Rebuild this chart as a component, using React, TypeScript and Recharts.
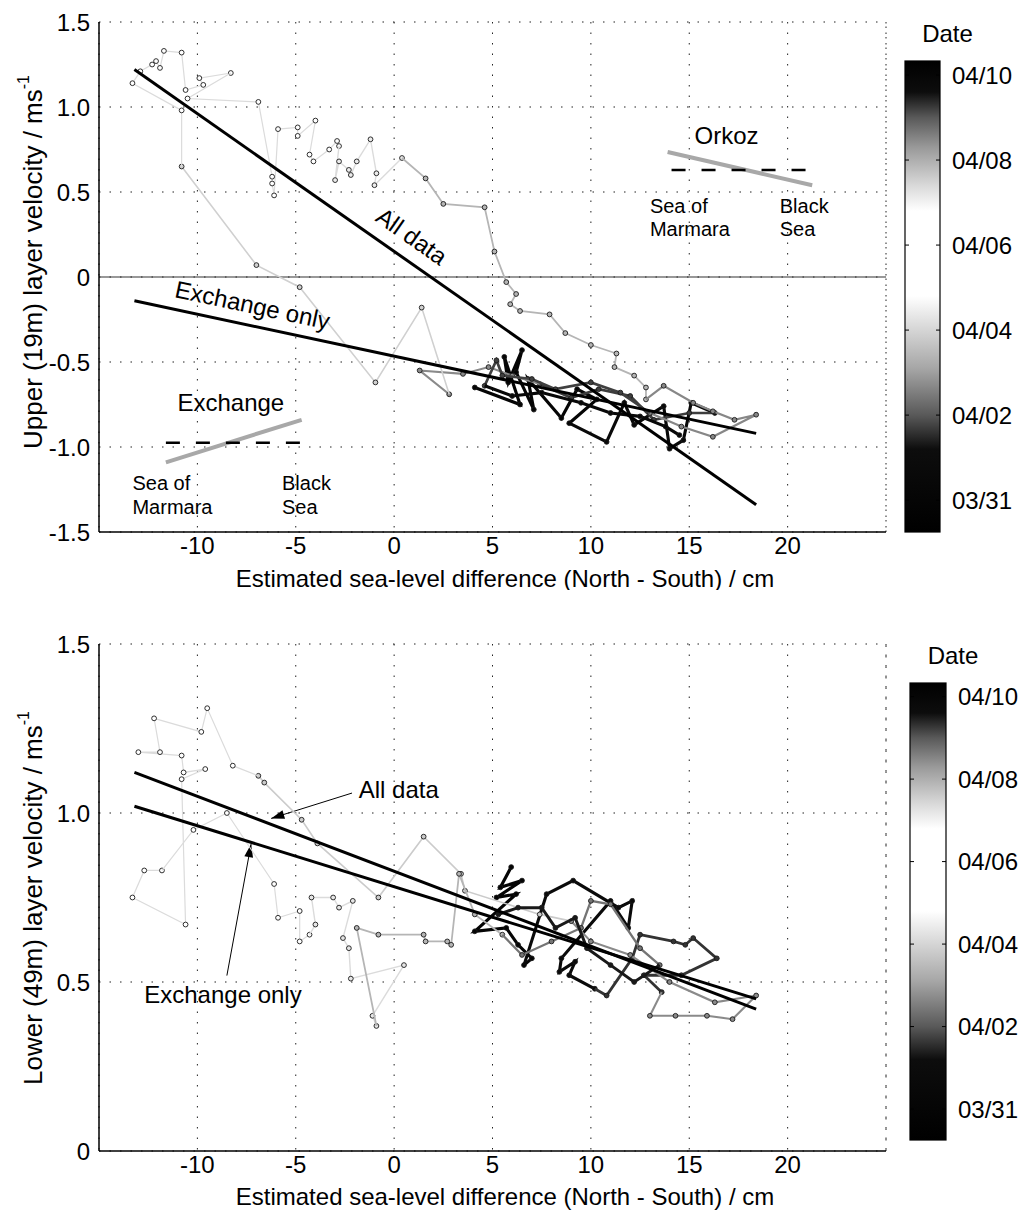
import React from "react";
import { ScatterChart, Scatter, XAxis, YAxis, CartesianGrid, ReferenceLine, ReferenceDot } from "recharts";

const FONT = '"Liberation Sans", Arial, Helvetica, sans-serif';

const xTicks = [-10, -5, 0, 5, 10, 15, 20];
const upperTicks = [-1.5, -1, -0.5, 0, 0.5, 1, 1.5];
const lowerTicks = [0, 0.5, 1, 1.5];
const dateLabels = ["03/31", "04/02", "04/04", "04/06", "04/08", "04/10"];
const dateDays = [0, 2, 4, 6, 8, 10]; // days after 03/31

// colour bar: black -> white -> black (0 = black, 1 = white)
const cmapDays = [-0.75, 1.2, 2.0, 3.1, 4.8, 6.8, 7.4, 8.3, 9.0, 9.6, 10.33];
const cmapGray = [0, 0.05, 0.35, 0.65, 1, 1, 0.85, 0.6, 0.35, 0.05, 0];

// upper (19m) layer trajectory, piece by piece
const upperP1 = [[4.1, -0.65], [6.4, -0.75], [5.6, -0.47], [5.8, -0.62], [6.5, -0.43], [6.2, -0.56], [7.1, -0.78], [6.8, -0.6], [8.5, -0.83], [9.3, -0.66], [10.3, -0.72], [8.9, -0.86]];
const upperP2 = [[10.8, -0.97], [11.7, -0.74], [12.2, -0.87], [13.7, -0.76], [14.0, -1.01], [14.7, -0.96], [15.1, -0.74], [16.3, -0.8]];
const upperP3 = [[15.0, -0.8], [13.2, -0.84], [12.0, -0.7], [10.4, -0.66], [9.0, -0.71], [7.4, -0.63]];
const upperP4 = [[6.0, -0.58], [4.8, -0.53], [3.5, -0.57], [1.3, -0.55], [2.8, -0.69]];
const upperP5 = [[1.4, -0.18], [-0.95, -0.62], [-4.8, -0.06], [-7.0, 0.07], [-10.8, 0.65]];
const upperP6 = [[-10.8, 0.98], [-13.3, 1.14], [-12.9, 1.21], [-12.3, 1.25], [-12.1, 1.27], [-11.9, 1.23], [-11.7, 1.33], [-10.8, 1.32], [-10.6, 1.1], [-9.7, 1.13], [-9.9, 1.17], [-8.3, 1.2]];
const upperP7 = [[-10.5, 1.05], [-6.9, 1.03], [-6.2, 0.59], [-6.2, 0.55], [-6.1, 0.48], [-5.9, 0.87], [-4.9, 0.88], [-4.9, 0.83], [-4.0, 0.92], [-4.3, 0.72], [-4.1, 0.68], [-3.3, 0.75], [-2.9, 0.8], [-2.8, 0.77]];
const upperP8 = [[-3.0, 0.57], [-2.8, 0.68], [-2.3, 0.63], [-2.2, 0.6], [-1.9, 0.68], [-1.2, 0.81], [-0.9, 0.61], [-1.0, 0.54], [0.4, 0.7]];
const upperP9 = [[1.6, 0.58], [2.5, 0.43], [4.6, 0.41], [5.1, 0.15], [5.7, -0.03], [6.2, -0.1], [5.9, -0.16], [6.4, -0.2], [7.9, -0.22], [8.7, -0.33], [10.0, -0.4], [11.3, -0.45], [11.2, -0.53], [12.2, -0.58], [12.8, -0.65], [12.8, -0.72]];
const upperP10 = [[13.7, -0.64], [15.2, -0.74], [16.2, -0.79], [17.3, -0.84], [18.4, -0.81], [16.2, -0.94], [14.6, -0.88], [13.0, -0.8]];
const upperP11 = [[11.5, -0.68], [10.0, -0.62], [8.2, -0.66], [7.0, -0.6], [5.5, -0.58], [5.2, -0.49], [4.6, -0.64]];
const upperP12 = [[6.0, -0.7], [7.5, -0.68], [9.5, -0.74], [11.0, -0.8], [12.5, -0.82], [13.8, -0.88], [14.5, -0.93]];
const upperDays = [0.0, 0.7, 1.7, 2.7, 3.9, 5.2, 6.2, 7.1, 7.9, 8.5, 9.2, 9.9];
const upperFitAll = [[-13.2, 1.22], [18.4, -1.34]];
const upperFitExchange = [[-13.2, -0.14], [18.4, -0.92]];

// lower (49m) layer trajectory, piece by piece
const lowerP1 = [[5.95, 0.84], [5.4, 0.78], [6.5, 0.8], [5.2, 0.75], [6.2, 0.76], [4.1, 0.65], [5.7, 0.66], [6.3, 0.61], [7.0, 0.57], [6.6, 0.55]];
const lowerP2 = [[7.75, 0.76], [9.1, 0.8], [11.4, 0.72], [12.1, 0.74], [11.9, 0.66], [11.0, 0.74], [8.5, 0.57], [8.4, 0.53], [9.2, 0.56], [8.9, 0.52], [10.2, 0.48]];
const lowerP3 = [[10.8, 0.46], [12.1, 0.57], [12.5, 0.64], [14.2, 0.62], [14.8, 0.61], [15.2, 0.63], [16.4, 0.57], [14.6, 0.52], [12.7, 0.52], [13.6, 0.47]];
const lowerP4 = [[13.0, 0.4], [14.3, 0.4], [15.9, 0.4], [17.2, 0.39], [18.4, 0.46], [16.3, 0.44], [14.0, 0.5], [12.0, 0.58], [10.0, 0.62], [9.0, 0.68]];
const lowerP5 = [[7.4, 0.7], [3.6, 0.77], [3.4, 0.82], [1.5, 0.93], [-0.8, 0.75], [-3.9, 0.91], [-4.7, 0.98], [-6.6, 1.09], [-6.9, 1.11]];
const lowerP6 = [[-8.2, 1.14], [-9.5, 1.31], [-9.8, 1.24], [-12.2, 1.28], [-11.9, 1.18], [-13.0, 1.18], [-10.8, 1.17], [-10.7, 1.12], [-9.6, 1.13], [-10.8, 1.1], [-10.6, 0.67], [-13.3, 0.75], [-12.7, 0.83], [-11.8, 0.83]];
const lowerP7 = [[-10.2, 0.95], [-8.5, 1.0], [-6.1, 0.79], [-5.9, 0.69], [-4.8, 0.71], [-4.8, 0.62], [-4.3, 0.64]];
const lowerP8 = [[-4.0, 0.67], [-4.2, 0.75], [-3.1, 0.75], [-2.8, 0.72], [-2.1, 0.74], [-2.6, 0.63], [-2.3, 0.6], [-2.2, 0.51], [0.5, 0.55], [-1.1, 0.4], [-0.9, 0.37]];
const lowerP9 = [[-1.9, 0.66], [-0.8, 0.64], [1.5, 0.64], [1.6, 0.62], [2.7, 0.62], [2.9, 0.61], [3.3, 0.82], [4.1, 0.7], [5.5, 0.64]];
const lowerP10 = [[6.5, 0.58], [8.0, 0.62], [9.5, 0.66], [10.0, 0.74], [11.0, 0.73], [12.5, 0.6], [13.5, 0.55]];
const lowerP11 = [[12.2, 0.5], [11.0, 0.55], [9.8, 0.6], [9.2, 0.69], [8.2, 0.66], [7.5, 0.72], [6.3, 0.72], [5.3, 0.7]];
const lowerDays = [0.0, 0.8, 1.6, 2.7, 3.8, 5.2, 6.3, 7.2, 7.9, 8.7, 9.5];
const lowerFitAll = [[-13.2, 1.12], [18.4, 0.42]];
const lowerFitExchange = [[-13.2, 1.02], [18.4, 0.45]];

function grayAt(day: number) {
  if (day <= cmapDays[0]) return cmapGray[0];
  for (let i = 1; i < cmapDays.length; i++) {
    if (day <= cmapDays[i]) {
      const t = (day - cmapDays[i - 1]) / (cmapDays[i] - cmapDays[i - 1]);
      return cmapGray[i - 1] + t * (cmapGray[i] - cmapGray[i - 1]);
    }
  }
  return cmapGray[cmapGray.length - 1];
}

function hexGray(g: number) {
  const v = Math.round(255 * g).toString(16).padStart(2, "0");
  return `#${v}${v}${v}`;
}

function buildRuns(pieces: number[][][], days: number[]) {
  return pieces.map((pts, i) => {
    const prev = i > 0 ? pieces[i - 1][pieces[i - 1].length - 1] : null;
    const data = pts.map(([x, y]) => ({ x, y, joint: false }));
    if (prev) data.unshift({ x: prev[0], y: prev[1], joint: true });
    const g = grayAt(days[i]);
    return {
      data,
      fill: hexGray(g),
      line: hexGray(Math.min(g, 0.86)),
      width: 1.2 + 2.0 * (1 - g),
    };
  });
}

const upperRuns = buildRuns([upperP1, upperP2, upperP3, upperP4, upperP5, upperP6, upperP7, upperP8, upperP9, upperP10, upperP11, upperP12], upperDays);
const lowerRuns = buildRuns([lowerP1, lowerP2, lowerP3, lowerP4, lowerP5, lowerP6, lowerP7, lowerP8, lowerP9, lowerP10, lowerP11], lowerDays);

const toXY = (pts: number[][]) => pts.map(([x, y]) => ({ x, y }));

const dotShape = (fill: string) => (p: any) => {
  if (p.payload && p.payload.joint) return <g />;
  return <circle cx={p.cx} cy={p.cy} r={2.4} fill={fill} stroke="#1a1a1a" strokeWidth={0.9} />;
};

const noShape = () => <g />;

const fmtY = (v: number) => (v === 0 ? "0" : v.toFixed(1));

function note(key: string, x: number, y: number, text: string, opts: { size?: number; angle?: number; anchor?: string } = {}) {
  const size = opts.size ?? 24;
  const angle = opts.angle ?? 0;
  const anchor = opts.anchor ?? "middle";
  return (
    <ReferenceDot
      key={key}
      x={x}
      y={y}
      r={1}
      ifOverflow="visible"
      shape={(p: any) => (
        <text
          x={p.cx}
          y={p.cy}
          textAnchor={anchor as any}
          dominantBaseline="central"
          fontSize={size}
          fontFamily={FONT}
          fill="#000"
          transform={angle ? `rotate(${angle}, ${p.cx}, ${p.cy})` : undefined}
        >
          {text}
        </text>
      )}
    />
  );
}

const yTitle = (main: string, cy: number) => () => (
  <text x={33} y={cy} transform={`rotate(-90, 33, ${cy})`} textAnchor="middle" dominantBaseline="central" fontSize={26} fontFamily={FONT} fill="#000">
    {main}
    <tspan dy={-10} fontSize={16}>-1</tspan>
  </text>
);

const xTitle = (cy: number) => () => (
  <text x={505} y={cy} textAnchor="middle" dominantBaseline="central" fontSize={24} fontFamily={FONT} fill="#000">
    Estimated sea-level difference (North - South) / cm
  </text>
);

const tickStyle = { fill: "#000", fontSize: 24, fontFamily: FONT };
const dotted = "1.5 9";

function Panel({ upper }: { upper: boolean }) {
  const runs = upper ? upperRuns : lowerRuns;
  return (
    <ScatterChart width={900} height={590} margin={{ top: upper ? 22 : 24, right: 14, bottom: upper ? 28 : 29, left: 39 }} style={{ background: "#fff" }}>
      <defs>
        <marker id="arrowHead" viewBox="0 0 12 10" refX="12" refY="5" markerWidth="14" markerHeight="11" orient="auto" markerUnits="userSpaceOnUse">
          <path d="M0,1 L12,5 L0,9 z" fill="#000" />
        </marker>
      </defs>
      <CartesianGrid stroke="#222" strokeDasharray={dotted} strokeWidth={1} />
      <XAxis
        type="number"
        dataKey="x"
        domain={[-15, 25]}
        ticks={xTicks}
        allowDataOverflow
        height={30}
        tick={tickStyle}
        tickSize={0}
        tickMargin={5}
        axisLine={{ stroke: "#000", strokeWidth: 1.5 }}
        tickLine={false}
        label={xTitle(upper ? 578 : 576)}
      />
      <YAxis
        type="number"
        dataKey="y"
        domain={upper ? [-1.5, 1.5] : [0, 1.5]}
        ticks={upper ? upperTicks : lowerTicks}
        allowDataOverflow
        width={60}
        tick={tickStyle}
        tickSize={0}
        tickMargin={9}
        tickFormatter={fmtY}
        axisLine={{ stroke: "#000", strokeWidth: 1.5 }}
        tickLine={false}
        label={upper ? yTitle("Upper (19m) layer velocity / ms", 262) : yTitle("Lower (49m) layer velocity / ms", 278)}
      />
      <ReferenceLine x={25} stroke="#222" strokeDasharray={dotted} />
      {upper && <ReferenceLine y={0} stroke="#333" strokeWidth={1.2} />}
      {runs.map((run, i) => (
        <Scatter
          key={`run${i}`}
          data={run.data}
          isAnimationActive={false}
          line={{ stroke: run.line, strokeWidth: run.width }}
          lineType="joint"
          shape={dotShape(run.fill)}
        />
      ))}
      <Scatter data={toXY(upper ? upperFitAll : lowerFitAll)} isAnimationActive={false} line={{ stroke: "#000", strokeWidth: 3 }} lineType="joint" shape={noShape} />
      <Scatter data={toXY(upper ? upperFitExchange : lowerFitExchange)} isAnimationActive={false} line={{ stroke: "#000", strokeWidth: 3 }} lineType="joint" shape={noShape} />
      {upper && [
        note("alld", 0.9, 0.24, "All data", { angle: 35 }),
        note("exo", -7.2, -0.165, "Exchange only", { angle: 12 }),
        note("exch", -8.3, -0.74, "Exchange"),
        note("som1", -13.3, -1.21, "Sea of", { size: 20, anchor: "start" }),
        note("mar1", -13.3, -1.35, "Marmara", { size: 20, anchor: "start" }),
        note("bl1", -5.7, -1.21, "Black", { size: 20, anchor: "start" }),
        note("sea1", -5.7, -1.35, "Sea", { size: 20, anchor: "start" }),
        note("ork", 16.9, 0.83, "Orkoz"),
        note("som2", 13.0, 0.42, "Sea of", { size: 20, anchor: "start" }),
        note("mar2", 13.0, 0.28, "Marmara", { size: 20, anchor: "start" }),
        note("bl2", 19.6, 0.42, "Black", { size: 20, anchor: "start" }),
        note("sea2", 19.6, 0.28, "Sea", { size: 20, anchor: "start" }),
        <ReferenceLine key="exg" segment={[{ x: -11.6, y: -1.09 }, { x: -4.7, y: -0.84 }]} stroke="#a8a8a8" strokeWidth={4} ifOverflow="visible" />,
        <ReferenceLine key="exd" segment={[{ x: -11.6, y: -0.975 }, { x: -4.7, y: -0.975 }]} stroke="#000" strokeWidth={2.5} strokeDasharray="14 16" ifOverflow="visible" />,
        <ReferenceLine key="okg" segment={[{ x: 13.9, y: 0.735 }, { x: 21.25, y: 0.54 }]} stroke="#a8a8a8" strokeWidth={4} ifOverflow="visible" />,
        <ReferenceLine key="okd" segment={[{ x: 14.1, y: 0.63 }, { x: 21.0, y: 0.63 }]} stroke="#000" strokeWidth={2.5} strokeDasharray="14 16" ifOverflow="visible" />,
      ]}
      {!upper && [
        note("alld2", -1.8, 1.07, "All data", { anchor: "start" }),
        note("exo2", -12.7, 0.463, "Exchange only", { anchor: "start" }),
        <ReferenceLine key="ar1" segment={[{ x: -2.14, y: 1.059 }, { x: -6.25, y: 0.984 }]} stroke="#000" strokeWidth={1} markerEnd="url(#arrowHead)" ifOverflow="visible" />,
        <ReferenceLine key="ar2" segment={[{ x: -8.5, y: 0.519 }, { x: -7.27, y: 0.908 }]} stroke="#000" strokeWidth={1} markerEnd="url(#arrowHead)" ifOverflow="visible" />,
      ]}
    </ScatterChart>
  );
}

function ColorBar({ x, y0, y1, w, id }: { x: number; y0: number; y1: number; w: number; id: string }) {
  const lo = cmapDays[0];
  const hi = cmapDays[cmapDays.length - 1];
  const yOf = (d: number) => y1 - ((d - lo) / (hi - lo)) * (y1 - y0);
  return (
    <g>
      <defs>
        <linearGradient id={id} x1="0" y1="0" x2="0" y2="1">
          {cmapDays
            .map((d, i) => ({ d, g: cmapGray[i] }))
            .reverse()
            .map((s, i) => (
              <stop key={i} offset={(hi - s.d) / (hi - lo)} stopColor={hexGray(s.g)} />
            ))}
        </linearGradient>
      </defs>
      <text x={x + w / 2 + 25} y={y0 - 28} textAnchor="middle" dominantBaseline="central" fontSize={24} fontFamily={FONT}>
        Date
      </text>
      <rect x={x} y={y0} width={w} height={y1 - y0} fill={`url(#${id})`} stroke="#000" strokeWidth={1.2} />
      {dateDays.map((d, i) => (
        <g key={i}>
          <line x1={x} x2={x + 4} y1={yOf(d)} y2={yOf(d)} stroke="#000" />
          <line x1={x + w - 4} x2={x + w} y1={yOf(d)} y2={yOf(d)} stroke="#000" />
          <text x={x + w + 12} y={yOf(d)} dominantBaseline="central" fontSize={24} fontFamily={FONT}>
            {dateLabels[i]}
          </text>
        </g>
      ))}
    </g>
  );
}

export default function App() {
  return (
    <div style={{ position: "absolute", left: 0, top: 0, width: 1025, height: 1217, background: "#fff", fontFamily: FONT }}>
      <div style={{ position: "absolute", left: 0, top: 0 }}>
        <Panel upper={true} />
      </div>
      <div style={{ position: "absolute", left: 0, top: 620 }}>
        <Panel upper={false} />
      </div>
      <svg width={1025} height={1217} style={{ position: "absolute", left: 0, top: 0, pointerEvents: "none" }}>
        <ColorBar x={905} y0={61} y1={532} w={35} id="cbTop" />
        <ColorBar x={910} y0={683} y1={1140} w={36} id="cbBottom" />
      </svg>
    </div>
  );
}
